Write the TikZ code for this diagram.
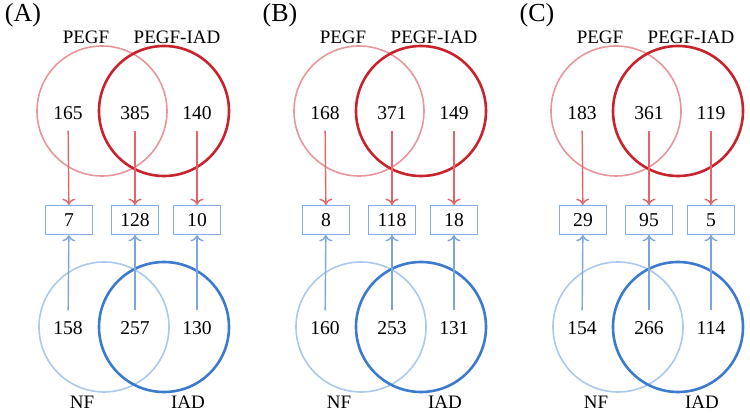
\documentclass[tikz,border=0pt]{standalone}
\usepackage{fontspec}
\setmainfont{Liberation Serif}
\usetikzlibrary{arrows.meta}

\definecolor{pegfred}{RGB}{232,150,155}
\definecolor{iadred}{RGB}{200,35,45}
\definecolor{nfblue}{RGB}{172,200,236}
\definecolor{iadblue}{RGB}{60,122,205}
\definecolor{arrowred}{RGB}{228,100,105}
\definecolor{arrowblue}{RGB}{125,165,222}
\definecolor{boxblue}{RGB}{135,172,222}

\tikzset{
  setcircle/.style={circle, minimum size=65pt, inner sep=0pt},
  lightred/.style={setcircle, draw=pegfred, line width=0.8pt},
  darkred/.style={setcircle, draw=iadred, line width=1.3pt},
  lightblue/.style={setcircle, draw=nfblue, line width=0.8pt},
  darkblue/.style={setcircle, draw=iadblue, line width=1.3pt},
  count/.style={font=\fontsize{9.8}{11}\selectfont},
  setname/.style={font=\fontsize{9.5}{11}\selectfont},
  panel/.style={font=\fontsize{13}{15}\selectfont},
  common/.style={draw=boxblue, line width=0.6pt, minimum width=23.5pt,
    minimum height=14.5pt, inner sep=0pt, font=\fontsize{9.8}{11}\selectfont},
  down/.style={draw=arrowred, line width=0.7pt, ->, shorten <=2pt},
  up/.style={draw=arrowblue, line width=0.7pt, ->, shorten <=2pt}
}

\begin{document}
\begin{tikzpicture}[x=0.5pt,y=-0.5pt]
\useasboundingbox (0,0) rectangle (750,416);

% one panel per data set
\foreach \dx/\tag/\ta/\tb/\tc/\ma/\mb/\mc/\ba/\bb/\bc in
  {0/A/165/385/140/7/128/10/158/257/130,
   257/B/168/371/149/8/118/18/160/253/131,
   514/C/183/361/119/29/95/5/154/266/114}
{
\begin{scope}[shift={(\dx,0)}]
\node[panel] (tag) at (23,15) {(\tag)};

% upper sets
\node[lightred] (pegf) at (102,111) {};
\node[darkred] (pegfiad) at (164,111) {};
\node[setname] (pegflab) at (86,37) {PEGF};
\node[setname] (pegfiadlab) at (177,37) {PEGF-IAD};
\node[count] (t1) at (68,113) {\ta};
\node[count] (t2) at (135,113) {\tb};
\node[count] (t3) at (197,113) {\tc};

% lower sets
\node[lightblue] (nf) at (104,327) {};
\node[darkblue] (iad) at (164,327) {};
\node[setname] (nflab) at (82,402) {NF};
\node[setname] (iadlab) at (188,402) {IAD};
\node[count] (b1) at (68,328) {\ba};
\node[count] (b2) at (135,328) {\bb};
\node[count] (b3) at (197,328) {\bc};

% shared genes
\node[common] (m1) at (69,220) {\ma};
\node[common] (m2) at (135,220) {\mb};
\node[common] (m3) at (197,220) {\mc};

\draw[down] (t1) -- (m1);
\draw[down] (t2) -- (m2);
\draw[down] (t3) -- (m3);
\draw[up] (b1) -- (m1);
\draw[up] (b2) -- (m2);
\draw[up] (b3) -- (m3);
\end{scope}
}

\end{tikzpicture}
\end{document}
